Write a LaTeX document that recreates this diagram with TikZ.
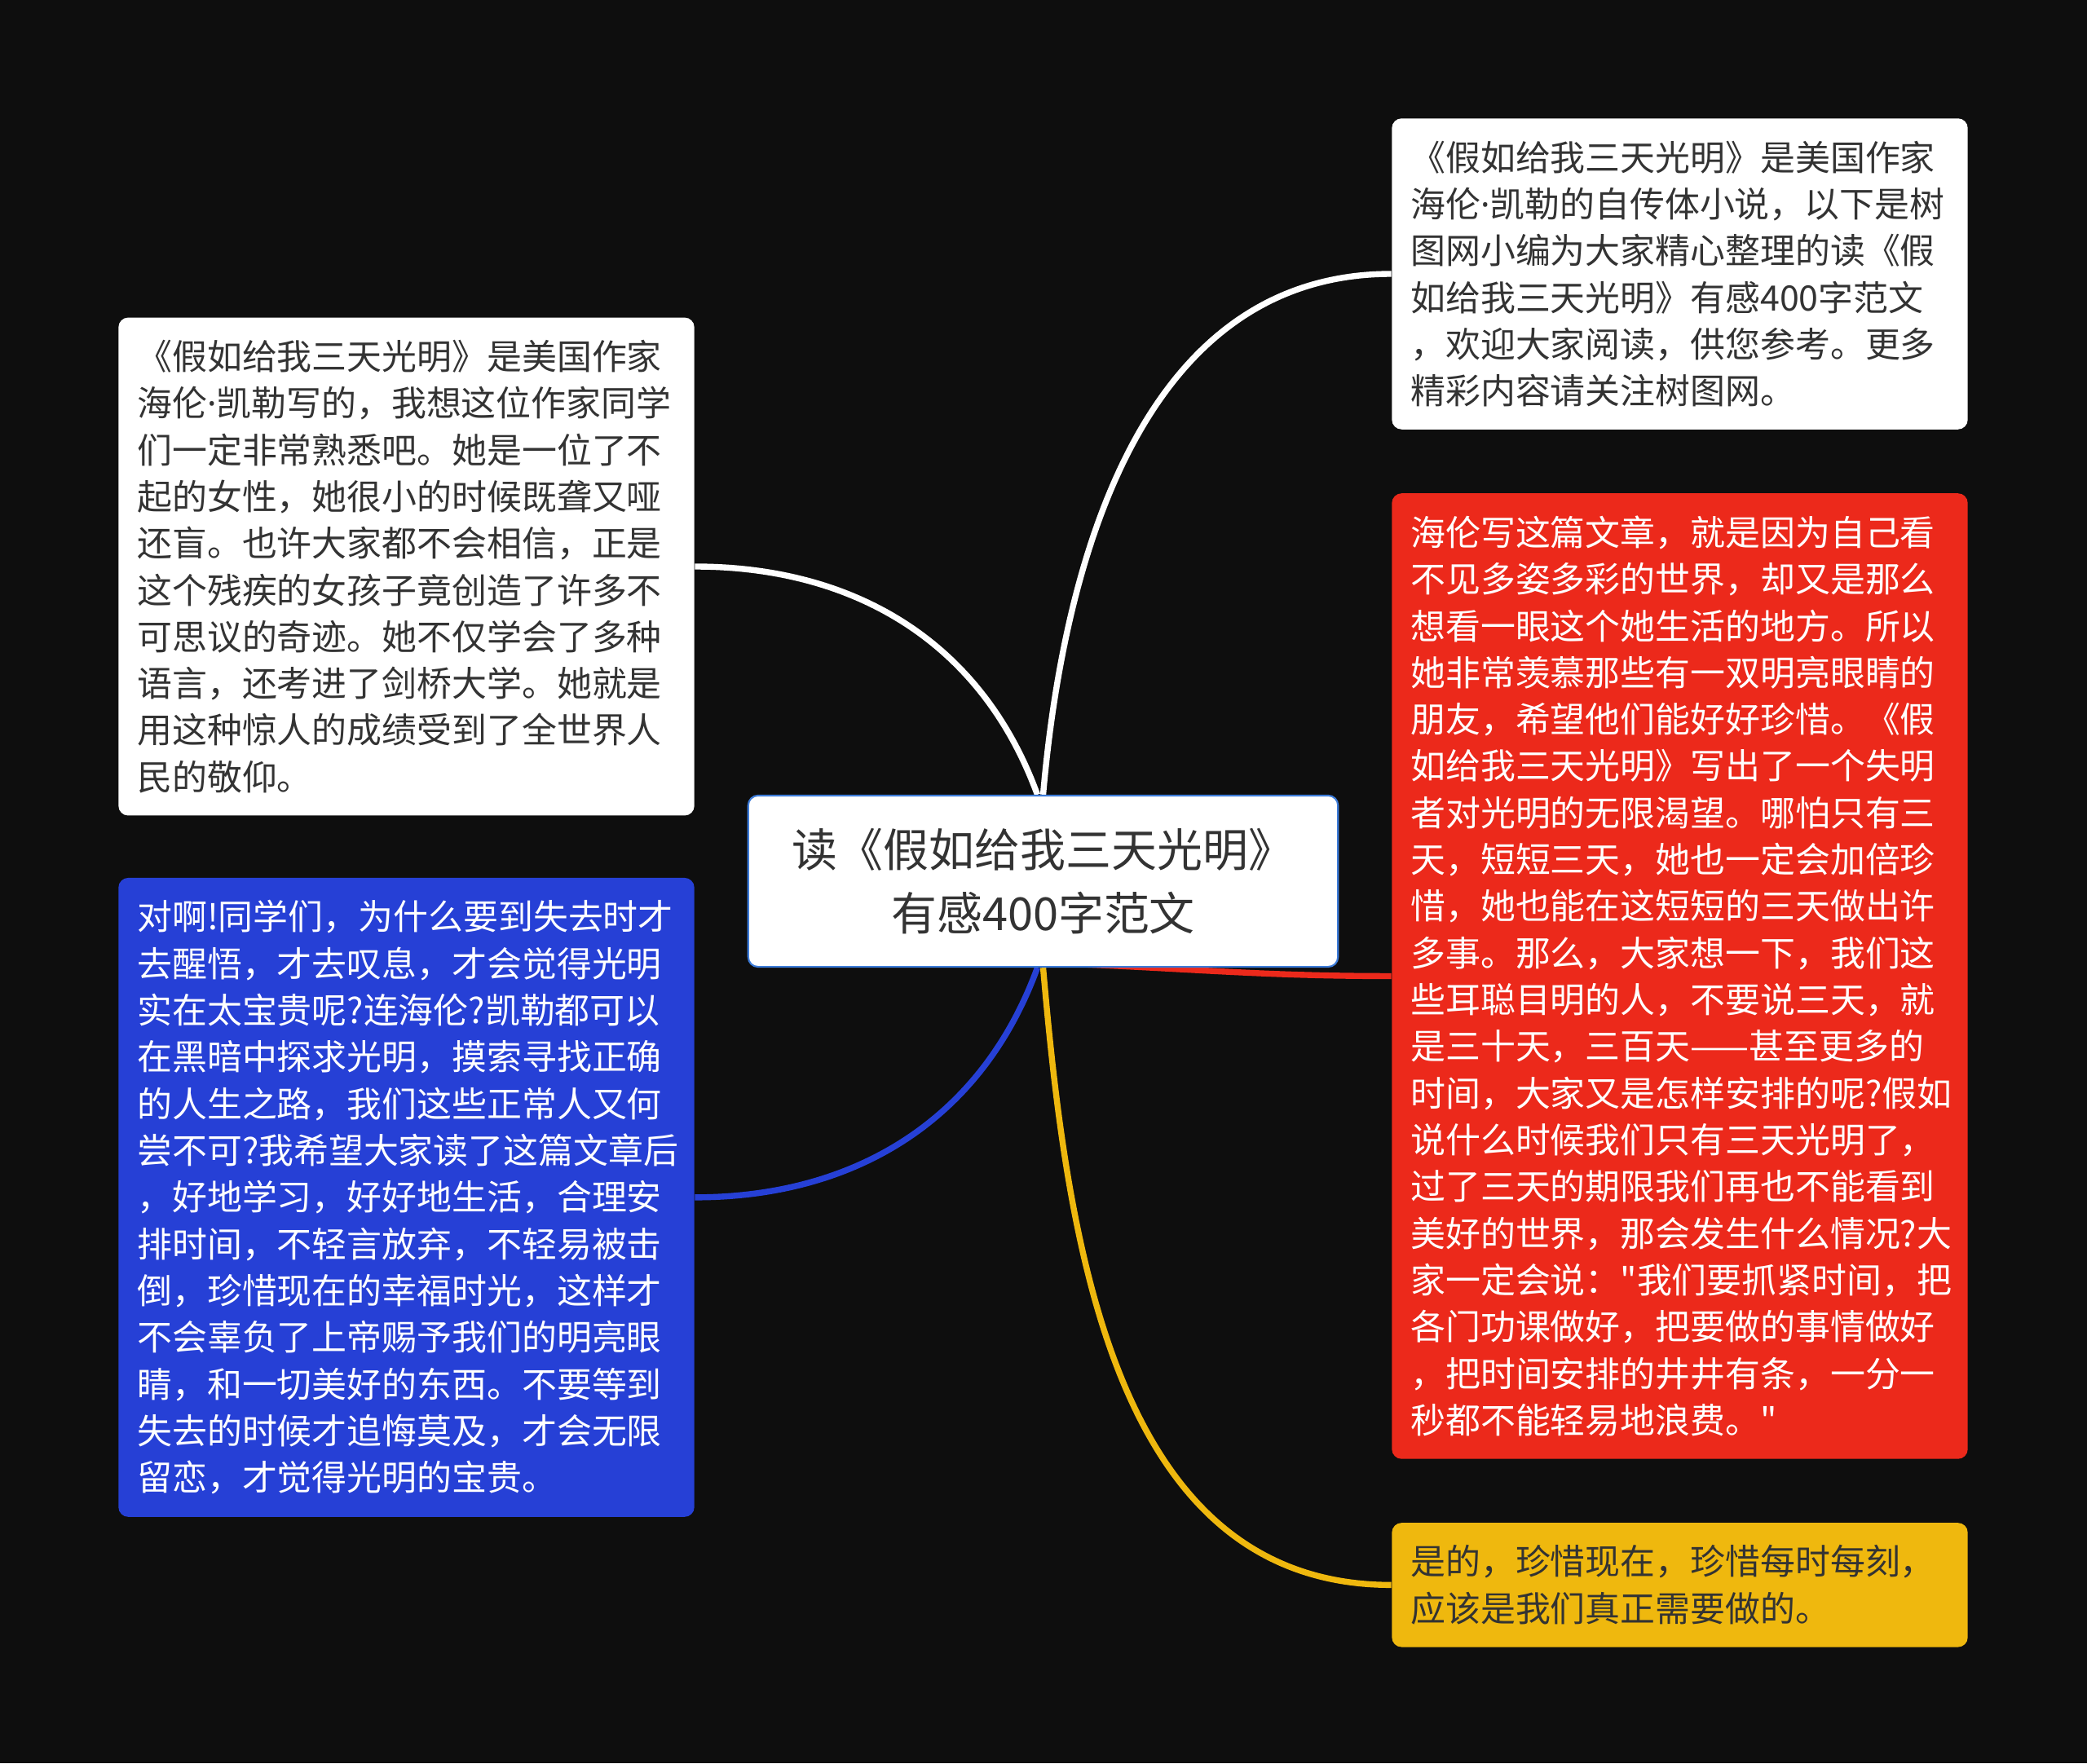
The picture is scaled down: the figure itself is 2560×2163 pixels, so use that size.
\documentclass[tikz,border=0pt]{standalone}
\usepackage{fontspec}
\newfontfamily\cjk{Noto Sans CJK SC}
\newfontfamily\dotfont{Noto Sans}
\usepackage{xcolor}
\usepackage{tikz}
\usetikzlibrary{positioning}
\newcommand{\mdot}{{\dotfont ·}}
\definecolor{pagebg}{RGB}{14,14,14}
\definecolor{inkgray}{RGB}{51,51,51}
\definecolor{hubblue}{RGB}{60,123,216}
\definecolor{notered}{RGB}{236,41,27}
\definecolor{noteblue}{RGB}{38,64,214}
\definecolor{noteyellow}{RGB}{239,184,14}
\pgfdeclarelayer{backdrop}
\pgfdeclarelayer{links}
\pgfsetlayers{backdrop,links,main}
\tikzset{
  notebox/.style={rounded corners=0.12cm,align=left,text width=6.6cm,
    inner xsep=0.23cm,inner ysep=0.275cm,font=\cjk\fontsize{12.2pt}{16.3pt}\selectfont},
  whitenote/.style={notebox,fill=white,text=inkgray},
  bluenote/.style={notebox,fill=noteblue,text=white},
  rednote/.style={notebox,fill=notered,text=white},
  yellownote/.style={notebox,fill=noteyellow,text=inkgray},
  hubbox/.style={draw=hubblue,line width=0.6pt,fill=white,rounded corners=0.12cm,
    align=center,minimum width=7.23cm,minimum height=2.1cm,text=inkgray,
    font=\cjk\fontsize{15.9pt}{22.2pt}\selectfont},
  branch/.style={line width=2.1pt}
}

\begin{document}
\begin{tikzpicture}[x=0.01cm,y=0.01cm,node distance=0.76cm]
  \begin{pgfonlayer}{backdrop}
    \fill[pagebg] (0,0) rectangle (2560,-2163);
  \end{pgfonlayer}
  \useasboundingbox (0,0) rectangle (2560,-2163);

  \node[hubbox] (hub) at (1279.5,-1081) {读《假如给我三天光明》\\有感400字范文};

  \node[whitenote] (story) at (498.5,-695) {《假如给我三天光明》是美国作家\\
    海伦\mdot 凯勒写的，我想这位作家同学\\
    们一定非常熟悉吧。她是一位了不\\
    起的女性，她很小的时候既聋又哑\\
    还盲。也许大家都不会相信，正是\\
    这个残疾的女孩子竟创造了许多不\\
    可思议的奇迹。她不仅学会了多种\\
    语言，还考进了剑桥大学。她就是\\
    用这种惊人的成绩受到了全世界人\\
    民的敬仰。};
  \node[bluenote,below=0.75cm of story] (lesson) {对啊!同学们，为什么要到失去时才\\
    去醒悟，才去叹息，才会觉得光明\\
    实在太宝贵呢?连海伦?凯勒都可以\\
    在黑暗中探求光明，摸索寻找正确\\
    的人生之路，我们这些正常人又何\\
    尝不可?我希望大家读了这篇文章后\\
    ，好地学习，好好地生活，合理安\\
    排时间，不轻言放弃，不轻易被击\\
    倒，珍惜现在的幸福时光，这样才\\
    不会辜负了上帝赐予我们的明亮眼\\
    睛，和一切美好的东西。不要等到\\
    失去的时候才追悔莫及，才会无限\\
    留恋，才觉得光明的宝贵。};

  \node[whitenote] (intro) at (2060.5,-336) {《假如给我三天光明》是美国作家\\
    海伦\mdot 凯勒的自传体小说，以下是树\\
    图网小编为大家精心整理的读《假\\
    如给我三天光明》有感400字范文\\
    ，欢迎大家阅读，供您参考。更多\\
    精彩内容请关注树图网。};
  \node[rednote,below=0.77cm of intro] (longing) {海伦写这篇文章，就是因为自己看\\
    不见多姿多彩的世界，却又是那么\\
    想看一眼这个她生活的地方。所以\\
    她非常羡慕那些有一双明亮眼睛的\\
    朋友，希望他们能好好珍惜。《假\\
    如给我三天光明》写出了一个失明\\
    者对光明的无限渴望。哪怕只有三\\
    天，短短三天，她也一定会加倍珍\\
    惜，她也能在这短短的三天做出许\\
    多事。那么，大家想一下，我们这\\
    些耳聪目明的人，不要说三天，就\\
    是三十天，三百天——甚至更多的\\
    时间，大家又是怎样安排的呢?假如\\
    说什么时候我们只有三天光明了，\\
    过了三天的期限我们再也不能看到\\
    美好的世界，那会发生什么情况?大\\
    家一定会说："我们要抓紧时间，把\\
    各门功课做好，把要做的事情做好\\
    ，把时间安排的井井有条，一分一\\
    秒都不能轻易地浪费。"};
  \node[yellownote,below=0.77cm of longing] (cherish) {是的，珍惜现在，珍惜每时每刻，\\
    应该是我们真正需要做的。};

  \coordinate (hubnw) at ([xshift=-0.07cm]hub.north);
  \coordinate (hubsw) at ([xshift=-0.07cm]hub.south);
  \coordinate (hubse) at ([yshift=0.06cm]hub.south);
  \begin{pgfonlayer}{links}
    \foreach \from/\kid/\side/\col/\o/\i in {hubnw/story/east/white/110/0,
        hub.north/intro/west/white/85/180,hubse/longing/west/notered/-2/180,
        hubsw/lesson/east/noteblue/-110/0,hub.south/cherish/west/noteyellow/-85/180}
      \draw[branch,draw=\col] (\from) to[out=\o,in=\i] (\kid.\side);
  \end{pgfonlayer}
\end{tikzpicture}
\end{document}
